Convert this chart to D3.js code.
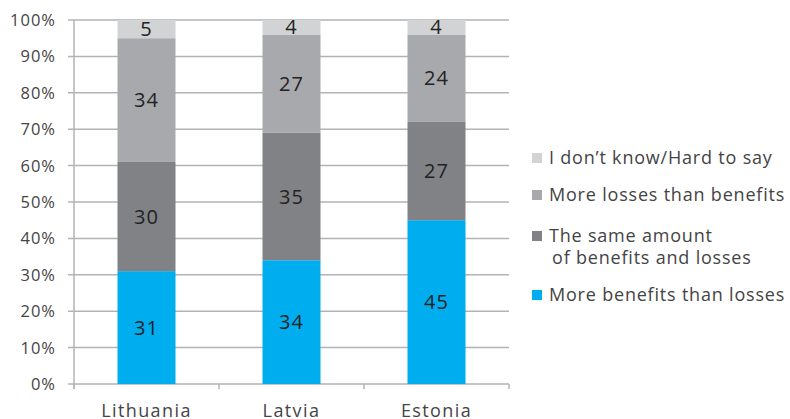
<!DOCTYPE html>
<html><head><meta charset="utf-8">
<script src="https://cdn.jsdelivr.net/npm/d3@7"></script>
<style>body{margin:0;background:#fff}svg{display:block}text{font-family:"Open Sans",sans-serif}</style>
</head><body><svg id="c" width="790" height="419"></svg>
<script>
const categories = ["Lithuania", "Latvia", "Estonia"];
const seriesNames = ["More benefits than losses", "The same amount of benefits and losses", "More losses than benefits", "I don\u2019t know/Hard to say"];
const moreBenefits = [31, 34, 45];
const sameAmount = [30, 35, 27];
const moreLosses = [34, 27, 24];
const dontKnow = [5, 4, 4];
const yTicks = [0, 10, 20, 30, 40, 50, 60, 70, 80, 90, 100];
const colors = ["#00aeef", "#808285", "#a7a9ac", "#d1d3d4"];

const series = [moreBenefits, sameAmount, moreLosses, dontKnow];
const rows = categories.map((c, i) => {
  const o = {cat: c};
  seriesNames.forEach((s, j) => o[s] = series[j][i]);
  return o;
});
const stacked = d3.stack().keys(seriesNames)(rows);

const svg = d3.select("#c");
const x = d3.scaleBand().domain(categories).range([74, 509]).paddingInner(0.6).paddingOuter(0.3);
const y = d3.scaleLinear().domain([0, 100]).range([384, 20]);

// grid
svg.append("g").selectAll("line").data(yTicks).join("line")
  .attr("x1", 68).attr("x2", 509)
  .attr("y1", d => y(d)).attr("y2", d => y(d))
  .attr("stroke", "#b3b3b3").attr("stroke-width", 1.5);

// y labels
svg.append("g").selectAll("text").data(yTicks).join("text")
  .attr("x", 56).attr("y", d => y(d)).attr("dy", "0.36em")
  .attr("text-anchor", "end").attr("font-size", 16.5).attr("letter-spacing", 1).attr("fill", "#444")
  .text(d => d + "%");

// axes lines
svg.append("line").attr("x1", 74).attr("x2", 74).attr("y1", 20).attr("y2", 389).attr("stroke", "#b3b3b3").attr("stroke-width", 1.5);
svg.append("g").selectAll("line").data([74, 219, 364, 509]).join("line")
  .attr("x1", d => d).attr("x2", d => d).attr("y1", 384).attr("y2", 389)
  .attr("stroke", "#b3b3b3").attr("stroke-width", 1.5);

// bars
const g = svg.append("g");
stacked.forEach((s, k) => {
  g.selectAll(null).data(s).join("rect")
    .attr("x", d => x(d.data.cat)).attr("width", x.bandwidth())
    .attr("y", d => y(d[1])).attr("height", d => y(d[0]) - y(d[1]))
    .attr("fill", colors[k]);
  g.selectAll(null).data(s).join("text")
    .attr("x", d => x(d.data.cat) + x.bandwidth() / 2)
    .attr("y", d => (y(d[0]) + y(d[1])) / 2).attr("dy", "0.36em")
    .attr("text-anchor", "middle").attr("font-size", 20).attr("letter-spacing", 1).attr("fill", "#222")
    .text(d => d[1] - d[0]);
});

// x labels
svg.append("g").selectAll("text").data(categories).join("text")
  .attr("x", d => x(d) + x.bandwidth() / 2).attr("y", 417)
  .attr("text-anchor", "middle").attr("font-size", 18).attr("letter-spacing", 1.4).attr("fill", "#444")
  .text(d => d);

// legend
const legend = [
  {k: 3, lines: ["I don\u2019t know/Hard to say"], y: 158},
  {k: 2, lines: ["More losses than benefits"], y: 195},
  {k: 1, lines: ["The same amount", "of benefits and losses"], y: 236},
  {k: 0, lines: ["More benefits than losses"], y: 295}
];
const lg = svg.append("g");
legend.forEach(l => {
  lg.append("rect").attr("x", 532).attr("y", l.y - 5).attr("width", 10).attr("height", 10).attr("fill", colors[l.k]);
  const t = lg.append("text").attr("x", 549).attr("y", l.y).attr("dy", "0.35em")
    .attr("font-size", 18).attr("letter-spacing", 0.8).attr("fill", "#444");
  l.lines.forEach((ln, i) => t.append("tspan").attr("x", i ? 552 : 549).attr("dy", i ? "1.2em" : "0.35em").text(ln));
});
</script></body></html>
